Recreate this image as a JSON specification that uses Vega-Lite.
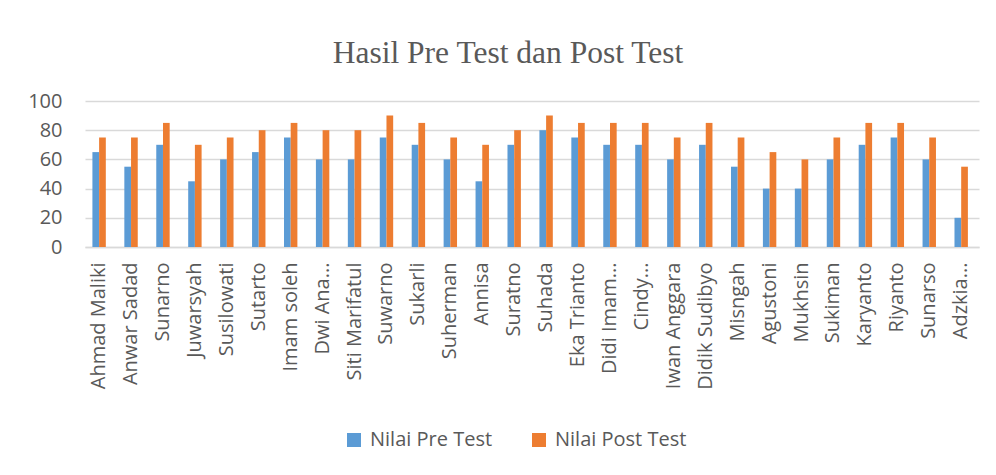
{
  "$schema": "https://vega.github.io/schema/vega-lite/v6.json",
  "autosize": {"type": "none"},
  "width": 894,
  "height": 146,
  "padding": {"left": 85, "top": 101, "right": 17, "bottom": 228},
  "background": "white",
  "title": {
    "text": "Hasil Pre Test dan Post Test",
    "font": "Liberation Serif",
    "fontSize": 31.5,
    "fontWeight": "normal",
    "color": "#595959",
    "anchor": "middle",
    "frame": "group",
    "dx": -24,
    "baseline": "alphabetic",
    "offset": -3
  },
  "data": {
    "values": [
      {"name": "Ahmad Maliki", "Nilai Pre Test": 65, "Nilai Post Test": 75},
      {"name": "Anwar Sadad", "Nilai Pre Test": 55, "Nilai Post Test": 75},
      {"name": "Sunarno", "Nilai Pre Test": 70, "Nilai Post Test": 85},
      {"name": "Juwarsyah", "Nilai Pre Test": 45, "Nilai Post Test": 70},
      {"name": "Susilowati", "Nilai Pre Test": 60, "Nilai Post Test": 75},
      {"name": "Sutarto", "Nilai Pre Test": 65, "Nilai Post Test": 80},
      {"name": "Imam soleh", "Nilai Pre Test": 75, "Nilai Post Test": 85},
      {"name": "Dwi Ana...", "Nilai Pre Test": 60, "Nilai Post Test": 80},
      {"name": "Siti Marifatul", "Nilai Pre Test": 60, "Nilai Post Test": 80},
      {"name": "Suwarno", "Nilai Pre Test": 75, "Nilai Post Test": 90},
      {"name": "Sukarli", "Nilai Pre Test": 70, "Nilai Post Test": 85},
      {"name": "Suherman", "Nilai Pre Test": 60, "Nilai Post Test": 75},
      {"name": "Annisa", "Nilai Pre Test": 45, "Nilai Post Test": 70},
      {"name": "Suratno", "Nilai Pre Test": 70, "Nilai Post Test": 80},
      {"name": "Suhada", "Nilai Pre Test": 80, "Nilai Post Test": 90},
      {"name": "Eka Trianto", "Nilai Pre Test": 75, "Nilai Post Test": 85},
      {"name": "Didi Imam...", "Nilai Pre Test": 70, "Nilai Post Test": 85},
      {"name": "Cindy...", "Nilai Pre Test": 70, "Nilai Post Test": 85},
      {"name": "Iwan Anggara", "Nilai Pre Test": 60, "Nilai Post Test": 75},
      {"name": "Didik Sudibyo", "Nilai Pre Test": 70, "Nilai Post Test": 85},
      {"name": "Misngah", "Nilai Pre Test": 55, "Nilai Post Test": 75},
      {"name": "Agustoni", "Nilai Pre Test": 40, "Nilai Post Test": 65},
      {"name": "Mukhsin", "Nilai Pre Test": 40, "Nilai Post Test": 60},
      {"name": "Sukiman", "Nilai Pre Test": 60, "Nilai Post Test": 75},
      {"name": "Karyanto", "Nilai Pre Test": 70, "Nilai Post Test": 85},
      {"name": "Riyanto", "Nilai Pre Test": 75, "Nilai Post Test": 85},
      {"name": "Sunarso", "Nilai Pre Test": 60, "Nilai Post Test": 75},
      {"name": "Adzkia...", "Nilai Pre Test": 20, "Nilai Post Test": 55}
    ]
  },
  "transform": [
    {"fold": ["Nilai Pre Test", "Nilai Post Test"], "as": ["series", "value"]}
  ],
  "mark": {"type": "bar"},
  "encoding": {
    "x": {
      "field": "name",
      "type": "nominal",
      "sort": null,
      "title": null,
      "scale": {"paddingInner": 0.58, "paddingOuter": 0.29, "align": 0.4},
      "axis": {
        "labelAngle": -90,
        "labelAlign": "right",
        "labelBaseline": "middle",
        "labelPadding": 15,
        "labelFont": "Open Sans",
        "labelFontSize": 20,
        "labelColor": "#595959",
        "labelLimit": 300,
        "ticks": false,
        "domain": true,
        "domainColor": "#D9D9D9",
        "domainWidth": 1.3,
        "grid": false
      }
    },
    "xOffset": {
      "field": "series",
      "type": "nominal",
      "sort": ["Nilai Pre Test", "Nilai Post Test"],
      "scale": {"paddingInner": 0, "paddingOuter": 0}
    },
    "y": {
      "field": "value",
      "type": "quantitative",
      "title": null,
      "scale": {"domain": [0, 100], "nice": false},
      "axis": {
        "values": [0, 20, 40, 60, 80, 100],
        "labelFont": "Open Sans",
        "labelFontSize": 20,
        "labelColor": "#595959",
        "labelPadding": 23,
        "ticks": false,
        "domain": false,
        "grid": true,
        "gridColor": "#D9D9D9",
        "gridWidth": 1.3
      }
    },
    "color": {
      "field": "series",
      "type": "nominal",
      "scale": {"domain": ["Nilai Pre Test", "Nilai Post Test"], "range": ["#5B9BD5", "#ED7D31"]},
      "legend": {
        "orient": "none",
        "legendX": 259,
        "legendY": 329,
        "direction": "horizontal",
        "title": null,
        "symbolType": "square",
        "symbolSize": 196,
        "symbolStrokeWidth": 0,
        "labelFont": "Open Sans",
        "labelFontSize": 20,
        "labelColor": "#595959",
        "labelOffset": 6,
        "columnPadding": 36,
        "padding": 0
      }
    }
  },
  "config": {
    "view": {"stroke": null}
  }
}
